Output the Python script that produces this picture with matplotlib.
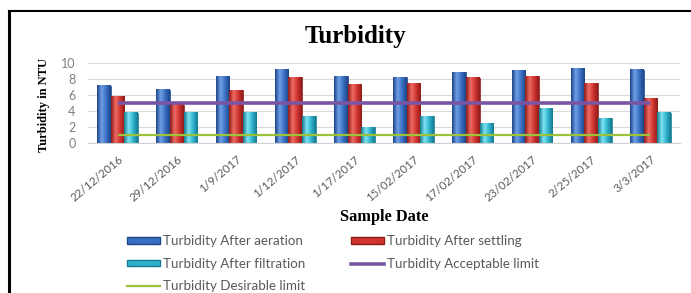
import numpy as np
import matplotlib
import matplotlib.pyplot as plt
from matplotlib.colors import LinearSegmentedColormap
from matplotlib.lines import Line2D
from matplotlib.patches import Patch

matplotlib.use('Agg')

dates = ['22/12/2016', '29/12/2016', '1/9/2017', '1/12/2017', '1/17/2017',
         '15/02/2017', '17/02/2017', '23/02/2017', '2/25/2017', '3/3/2017']
after_aeration = [7.2, 6.7, 8.4, 9.2, 8.4, 8.3, 8.9, 9.1, 9.4, 9.2]
after_settling = [5.9, 4.8, 6.6, 8.3, 7.4, 7.5, 8.2, 8.4, 7.5, 5.6]
after_filtration = [3.8, 3.8, 3.8, 3.4, 2.0, 3.4, 2.4, 4.4, 3.1, 3.8]
acceptable_limit = [5] * len(dates)
desirable_limit = [1] * len(dates)
yticks = [0, 2, 4, 6, 8, 10]

W, H = 691, 293
fig = plt.figure(figsize=(W / 100, H / 100), dpi=100)

ax = fig.add_axes([88 / W, 1 - 142.7 / H, (680 - 88) / W, (142.7 - 63.3) / H])

x = np.arange(len(dates))
bw = 0.23

# (face, dark edge, highlight) for each bar series
series = [
    (after_aeration, -bw, '#3a6fc2', '#1d4589', '#6f9fe6'),
    (after_settling, 0, '#cf3430', '#8e1b18', '#ee6b63'),
    (after_filtration, bw, '#2fb3cc', '#16798f', '#7fe3f2'),
]

grad = np.linspace(0, 1, 64).reshape(1, -1)
for vals, off, face, dark, light in series:
    bars = ax.bar(x + off, vals, bw, color=face, edgecolor=dark, linewidth=0.5, zorder=2)
    cmap = LinearSegmentedColormap.from_list('c', [dark, light, face, dark])
    # cylinder-like shading over each bar
    for b in bars:
        bx, by, bwid, bh = b.get_x(), b.get_y(), b.get_width(), b.get_height()
        ax.imshow(grad, cmap=cmap, extent=(bx, bx + bwid, by, by + bh),
                  aspect='auto', zorder=2.1, interpolation='bilinear')

ax.plot(x, acceptable_limit, color='#7a55a4', lw=2.6, zorder=3, solid_capstyle='butt')
ax.plot(x, desirable_limit, color='#9cc23c', lw=1.6, zorder=3, solid_capstyle='butt')

ax.set_xlim(-0.5, len(dates) - 0.5)
ax.set_ylim(0, 10)
ax.set_yticks(yticks)
ax.set_xticks(x)
ax.set_xticklabels(dates, rotation=40, ha='right', rotation_mode='anchor',
                   fontsize=8.3, color='#595959', fontfamily='Lato')
ax.tick_params(axis='x', length=0, pad=8)
ax.tick_params(axis='y', length=0, pad=9, labelsize=9, labelcolor='#7f7f7f')
for lab in ax.get_yticklabels():
    lab.set_fontfamily('Lato')
ax.grid(axis='y', color='#d9d9d9', lw=0.8, zorder=0)
ax.set_axisbelow(True)
for s in ['top', 'right', 'left']:
    ax.spines[s].set_visible(False)
ax.spines['bottom'].set_color('#d0d0d0')

fig.text(355 / W, 1 - 37 / H, 'Turbidity', ha='center', va='center',
         fontsize=18, fontweight='bold', fontfamily='Liberation Serif')
fig.text(44 / W, 1 - 105 / H, 'Turbidity in NTU', ha='center', va='center', rotation=90,
         fontsize=9, fontweight='bold', fontfamily='Liberation Serif')
fig.text(384 / W, 1 - 217 / H, 'Sample Date', ha='center', va='center',
         fontsize=11.8, fontweight='bold', fontfamily='Liberation Serif')

handles = [
    Patch(facecolor='#3a6fc2', edgecolor='#1d4589', label='Turbidity After aeration'),
    Patch(facecolor='#2fb3cc', edgecolor='#16798f', label='Turbidity After filtration'),
    Line2D([], [], color='#9cc23c', lw=1.6, label='Turbidity Desirable limit'),
    Patch(facecolor='#cf3430', edgecolor='#8e1b18', label='Turbidity After settling'),
    Line2D([], [], color='#7a55a4', lw=2.6, label='Turbidity Acceptable limit'),
]
fig.legend(handles=handles, ncol=2, loc='upper left', bbox_to_anchor=(127 / W, 1 - 235 / H),
           frameon=False, borderpad=0, borderaxespad=0, handlelength=2.5, handleheight=0.4,
           handletextpad=0.2, labelspacing=0.8, columnspacing=3.4,
           prop={'family': 'Lato', 'size': 9.6}, labelcolor='#595959')

# chart frame (left and top edges visible in the crop)
fig.add_artist(Line2D([9 / W, 9 / W], [0, 1 - 11 / H], color='black', lw=2.2))
fig.add_artist(Line2D([9 / W, 1], [1 - 11 / H, 1 - 11 / H], color='black', lw=1.5))

fig.savefig('out.png', dpi=100)
